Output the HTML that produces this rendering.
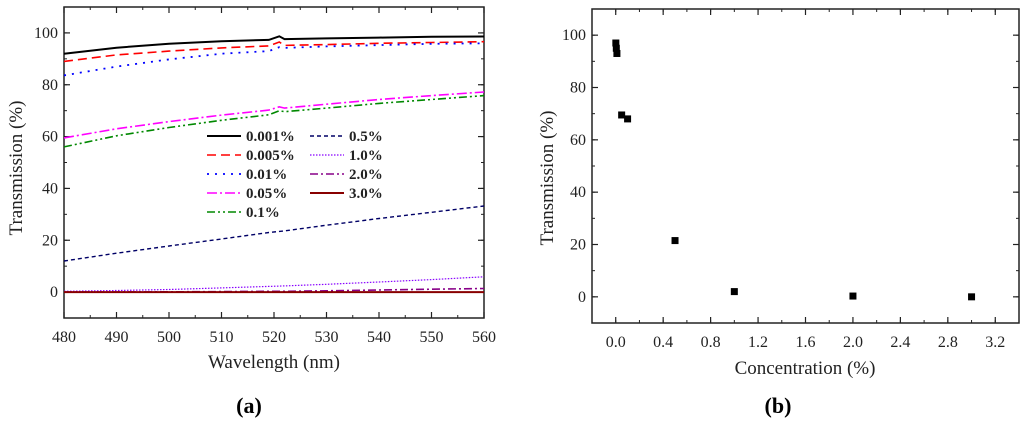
<!DOCTYPE html>
<html><head><meta charset="utf-8"><style>
html,body{margin:0;padding:0;background:#fff;}
svg{display:block;font-family:"Liberation Serif",serif;}
</style></head><body>
<svg id="fig" width="1024" height="422" viewBox="0 0 1024 422" xmlns="http://www.w3.org/2000/svg"></svg>
<script>
const wavelengths=[480,490,500,510,519,521,522,530,540,550,560];
const s0001=[92,94.3,95.8,96.8,97.3,98.7,97.6,97.9,98.2,98.5,98.6];
const s0005=[89,91.5,93,94.2,95,96.5,95.2,95.5,96,96.3,96.6];
const s001=[83.6,87,89.8,92,93,94.5,94.2,94.8,95.3,95.8,96];
const s005=[59.5,63,65.8,68.3,70.2,71.5,71,72.5,74.3,75.8,77.2];
const s01=[56,60.3,63.5,66.3,68.4,70,69.6,71,72.8,74.3,75.8];
const s05=[12,15,17.8,20.5,23,23.4,23.6,25.8,28.4,30.8,33.2];
const s10=[0.3,0.6,1,1.6,2.2,2.3,2.4,3,3.9,4.8,5.9];
const s20=[0,0.05,0.1,0.2,0.3,0.3,0.3,0.5,0.8,1.1,1.4];
const s30=[0,0,0,0,0,0,0,0,0,0,0];
const seriesLabels=["0.001%","0.005%","0.01%","0.05%","0.1%","0.5%","1.0%","2.0%","3.0%"];
const xTicksA=[480,490,500,510,520,530,540,550,560];
const yTicks=[0,20,40,60,80,100];
const concentrations=[0.001,0.005,0.01,0.05,0.1,0.5,1,2,3];
const transmission=[97,95,93,69.5,68,21.5,2,0.3,0];
const xTicksB=[0.0,0.4,0.8,1.2,1.6,2.0,2.4,2.8,3.2];

const NS="http://www.w3.org/2000/svg";
const svg=document.getElementById('fig');
function mk(tag,attrs,parent,text){const e=document.createElementNS(NS,tag);for(const k in attrs)e.setAttribute(k,attrs[k]);if(text!==undefined)e.textContent=text;(parent||svg).appendChild(e);return e;}

function axes(P,xt,xMinorStep,yMinorStep,xfmt,name){
  const g=mk('g',{});
  
  
  const sx=v=>P.x0+(v-P.xmin)/(P.xmax-P.xmin)*(P.x1-P.x0);
  const sy=v=>P.y1-(v-P.ymin)/(P.ymax-P.ymin)*(P.y1-P.y0);
  for(let v=Math.ceil(P.xmin/xMinorStep)*xMinorStep;v<=P.xmax+1e-9;v+=xMinorStep){const x=sx(v);
    mk('line',{x1:x,x2:x,y1:P.y1,y2:P.y1-3,stroke:'#222','stroke-width':1},g);
    mk('line',{x1:x,x2:x,y1:P.y0,y2:P.y0+3,stroke:'#222','stroke-width':1},g);}
  for(let v=Math.ceil(P.ymin/yMinorStep)*yMinorStep;v<=P.ymax+1e-9;v+=yMinorStep){const y=sy(v);
    mk('line',{x1:P.x0,x2:P.x0+3,y1:y,y2:y,stroke:'#222','stroke-width':1},g);
    mk('line',{x1:P.x1,x2:P.x1-3,y1:y,y2:y,stroke:'#222','stroke-width':1},g);}
  xt.forEach(v=>{const x=sx(v);
    mk('line',{x1:x,x2:x,y1:P.y1,y2:P.y1-6,stroke:'#222','stroke-width':1.2},g);
    mk('line',{x1:x,x2:x,y1:P.y0,y2:P.y0+6,stroke:'#222','stroke-width':1.2},g);
    const t=mk('text',{x:x,y:P.y1+24,'text-anchor':'middle','font-size':16,fill:'#222'},g,xfmt(v));
    });
  yTicks.forEach(v=>{const y=sy(v);
    mk('line',{x1:P.x0,x2:P.x0+6,y1:y,y2:y,stroke:'#222','stroke-width':1.2},g);
    mk('line',{x1:P.x1,x2:P.x1-6,y1:y,y2:y,stroke:'#222','stroke-width':1.2},g);
    const t=mk('text',{x:P.x0-6,y:y+5,'text-anchor':'end','font-size':16,fill:'#222'},g,String(v));
    });
  const r=mk('rect',{x:P.x0,y:P.y0,width:P.x1-P.x0,height:P.y1-P.y0,fill:'none',stroke:'#222','stroke-width':1.5},g);
  
  return {sx,sy};
}

const PA={x0:64,x1:484,y0:7,y1:318,xmin:480,xmax:560,ymin:-10,ymax:110};
const A=axes(PA,xTicksA,5,10,v=>String(v),'chart-a');
const styles=[
 {c:'#000',d:'',w:2},{c:'#f00',d:'9,5',w:1.6},{c:'#00f',d:'2,6',w:1.8},
 {c:'#f0f',d:'10,3,2,3',w:1.6},{c:'#080',d:'8,3,2,3,2,3',w:1.6},{c:'#006',d:'4,3',w:1.4},
 {c:'#80f',d:'1.5,1.5',w:1.2},{c:'#808',d:'8,3,2,3',w:1.6},{c:'#800',d:'',w:2}];
const allSeries=[s0001,s0005,s001,s005,s01,s05,s10,s20,s30];
const names=['0001','0005','001','005','01','05','10','20','30'];
allSeries.forEach((s,i)=>{
  const d=s.map((v,j)=>(j?'L':'M')+A.sx(wavelengths[j]).toFixed(1)+','+A.sy(v).toFixed(1)).join(' ');
  const p=mk('path',{d:d,fill:'none',stroke:styles[i].c,'stroke-width':styles[i].w,'stroke-dasharray':styles[i].d});
  
  
});
const lg=mk('g',{});


seriesLabels.forEach((lab,i)=>{
  const col=i<5?0:1,row=i<5?i:i-5;
  const lx=col?310:207,ly=136+row*19;
  const e=mk('g',{},lg);
  
  
  mk('line',{x1:lx,x2:lx+34,y1:ly,y2:ly,stroke:styles[i].c,'stroke-width':styles[i].w,'stroke-dasharray':styles[i].d},e);
  mk('text',{x:lx+39,y:ly+5,'font-size':15,'font-weight':'bold',fill:'#222'},e,lab);
});
let t=mk('text',{x:274,y:368,'text-anchor':'middle','font-size':19,fill:'#222'},svg,'Wavelength (nm)');

t=mk('text',{x:0,y:0,'text-anchor':'middle','font-size':19,fill:'#222',transform:'translate(22,168) rotate(-90)'},svg,'Transmission (%)');

t=mk('text',{x:249,y:413,'text-anchor':'middle','font-size':22,'font-weight':'bold',fill:'#000'},svg,'(a)');


const PB={x0:592,x1:1019,y0:9,y1:323,xmin:-0.2,xmax:3.4,ymin:-10,ymax:110};
const B=axes(PB,xTicksB,0.2,10,v=>v.toFixed(1),'chart-b');
concentrations.forEach((c,i)=>{
  const r=mk('rect',{x:B.sx(c)-3.5,y:B.sy(transmission[i])-3.5,width:7,height:7,fill:'#000'});
  
  
});
t=mk('text',{x:805,y:374,'text-anchor':'middle','font-size':19,fill:'#222'},svg,'Concentration (%)');

t=mk('text',{x:0,y:0,'text-anchor':'middle','font-size':19,fill:'#222',transform:'translate(553,178) rotate(-90)'},svg,'Transmission (%)');

t=mk('text',{x:778,y:413,'text-anchor':'middle','font-size':22,'font-weight':'bold',fill:'#000'},svg,'(b)');

</script>
</body></html>
